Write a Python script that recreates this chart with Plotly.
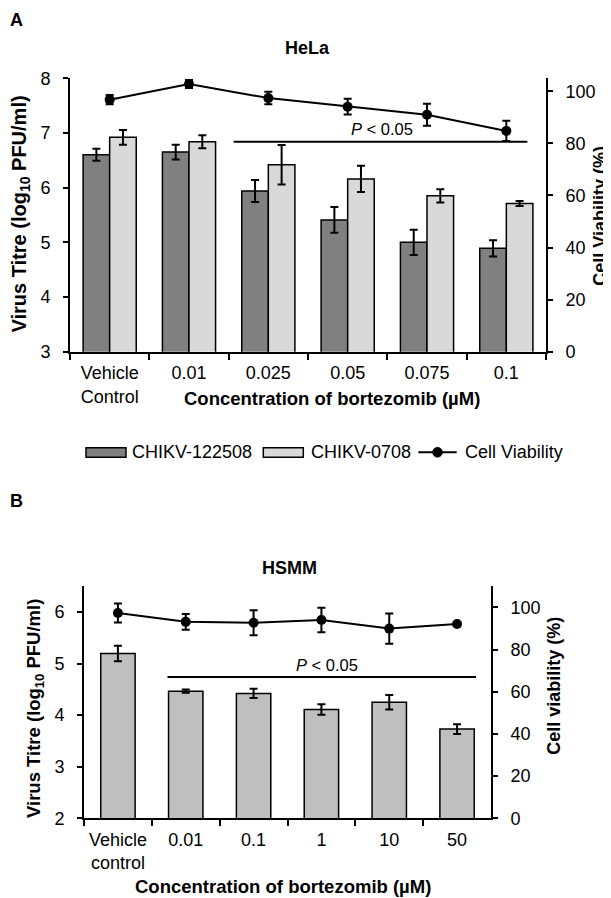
import plotly.graph_objects as go

# ---------------- data ----------------
categories_a = ["Vehicle<br>Control", "0.01", "0.025", "0.05", "0.075", "0.1"]
titre_122508 = [6.60, 6.65, 5.94, 5.41, 5.00, 4.89]
titre_122508_err = [0.11, 0.135, 0.20, 0.235, 0.23, 0.15]
titre_0708 = [6.92, 6.84, 6.42, 6.16, 5.85, 5.71]
titre_0708_err = [0.135, 0.12, 0.36, 0.24, 0.12, 0.045]
viability_a = [96.8, 102.8, 97.4, 94.1, 91.0, 84.8]
viability_a_err = [1.8, 1.5, 2.4, 3.0, 4.2, 3.9]

categories_b = ["Vehicle<br>control", "0.01", "0.1", "1", "10", "50"]
titre_b = [5.195, 4.465, 4.42, 4.11, 4.25, 3.73]
titre_b_err = [0.15, 0.03, 0.09, 0.10, 0.14, 0.095]
viability_b = [97.3, 93.1, 92.7, 94.0, 89.9, 92.1]
viability_b_err = [4.5, 3.7, 5.9, 5.8, 7.2, 0.0]

W, H = 611, 898
OFF = 8  # the page body adds an 8px margin; positions below are page pixels
FONT = "Liberation Sans, Arial, sans-serif"


def px(x):
    return (x - OFF) / W


def py(y):
    return 1 - (y - OFF) / H


err_style = dict(type="data", color="black", thickness=2, width=4, visible=True)

fig = go.Figure()

# ---- Panel A ----
fig.add_trace(go.Bar(
    x=categories_a, y=titre_122508, name="CHIKV-122508",
    marker=dict(color="#808080", line=dict(color="black", width=1.5)),
    error_y=dict(array=titre_122508_err, **err_style),
    xaxis="x", yaxis="y", showlegend=False))
fig.add_trace(go.Bar(
    x=categories_a, y=titre_0708, name="CHIKV-0708",
    marker=dict(color="#d9d9d9", line=dict(color="black", width=1.5)),
    error_y=dict(array=titre_0708_err, **err_style),
    xaxis="x", yaxis="y", showlegend=False))
fig.add_trace(go.Scatter(
    x=categories_a, y=viability_a, name="Cell Viability", mode="lines+markers",
    line=dict(color="black", width=2), marker=dict(color="black", size=10),
    error_y=dict(array=viability_a_err, **err_style),
    xaxis="x", yaxis="y2", showlegend=False))

# ---- Panel B ----
fig.add_trace(go.Bar(
    x=categories_b, y=titre_b, name="HSMM titre", width=0.507,
    marker=dict(color="#bfbfbf", line=dict(color="black", width=1.5)),
    error_y=dict(array=titre_b_err, **err_style),
    xaxis="x2", yaxis="y3", showlegend=False))
fig.add_trace(go.Scatter(
    x=categories_b, y=viability_b, name="Cell viability", mode="lines+markers",
    line=dict(color="black", width=2), marker=dict(color="black", size=10),
    error_y=dict(array=viability_b_err, **err_style),
    xaxis="x2", yaxis="y4", showlegend=False))

tickfont = dict(family=FONT, size=18, color="black")
common_x = dict(type="category", showline=True, linewidth=2, linecolor="black",
                ticks="outside", ticklen=6, tickwidth=2, tickcolor="black",
                tickson="boundaries", showgrid=False, zeroline=False, tickangle=0,
                tickfont=tickfont, range=[-0.5, 5.5], ticklabelstandoff=4,
                automargin=False)
common_y = dict(showline=True, linewidth=2, linecolor="black", ticks="outside",
                ticklen=5, tickwidth=2, tickcolor="black", showgrid=False,
                zeroline=False, tickfont=tickfont, dtick=1, ticklabelstandoff=9,
                automargin=False)

fig.update_layout(
    width=W, height=H,
    margin=dict(l=0, r=0, t=0, b=0, pad=0, autoexpand=False),
    paper_bgcolor="white", plot_bgcolor="white",
    barmode="group", bargap=0.33, bargroupgap=0,
    font=dict(family=FONT, color="black"),
    showlegend=False,
    xaxis=dict(domain=[px(70), px(546)], anchor="y", **common_x),
    yaxis=dict(domain=[py(351.7), py(78.3)], anchor="x", range=[3, 8], **common_y),
    yaxis2=dict(overlaying="y", side="right", anchor="x", range=[0, 105],
                **{**common_y, "dtick": 20}),
    xaxis2=dict(domain=[px(84), px(491)], anchor="y3", **common_x),
    yaxis3=dict(domain=[py(818.3), py(586.2)], anchor="x2", range=[2, 6.5], **common_y),
    yaxis4=dict(overlaying="y3", side="right", anchor="x2", range=[0, 110],
                **{**common_y, "dtick": 20}),
)

# significance lines
fig.add_shape(type="line", xref="x", yref="y", x0=1.563, x1=5.265, y0=6.84, y1=6.84,
              line=dict(color="black", width=2))
fig.add_shape(type="line", xref="x2", yref="y3", x0=0.731, x1=5.278, y0=4.74, y1=4.74,
              line=dict(color="black", width=2))
fig.add_annotation(xref="x", yref="y", x=3.437, y=7.07, text="<i>P</i> < 0.05",
                   showarrow=False, font=dict(size=16.5, family=FONT, color="black"))
fig.add_annotation(xref="x2", yref="y3", x=3.087, y=4.97, text="<i>P</i> < 0.05",
                   showarrow=False, font=dict(size=16.5, family=FONT, color="black"))


def ann(x, y, text, size, angle=0, xanchor="center", yanchor="middle"):
    fig.add_annotation(xref="paper", yref="paper", x=px(x), y=py(y), text=text,
                       showarrow=False, textangle=angle, xanchor=xanchor, yanchor=yanchor,
                       font=dict(size=size, family=FONT, color="black"))


# panel labels / titles
ann(8, 8, "<b>A</b>", 18, xanchor="left", yanchor="top")
ann(307, 48.3, "<b>HeLa</b>", 18)
ann(19.5, 214, "<b>Virus Titre (log<sub>10</sub> PFU/ml)</b>", 20, -90)
ann(600, 215.8, "<b>Cell Viability (%)</b>", 18, -90)
ann(332.2, 398.3, "<b>Concentration of bortezomib (µM)</b>", 18.5)

ann(8, 489, "<b>B</b>", 18, xanchor="left", yanchor="top")
ann(289, 568.3, "<b>HSMM</b>", 18)
ann(35, 709, "<b>Virus Titre (log<sub>10</sub> PFU/ml)</b>", 18.5, -90)
ann(554, 685.8, "<b>Cell viability (%)</b>", 18, -90)
ann(283, 886.7, "<b>Concentration of bortezomib (µM)</b>", 18.5)

# legend for panel A (drawn manually)
ly = 452.3
fig.add_shape(type="rect", xref="paper", yref="paper", x0=px(86), x1=px(126),
              y0=py(457.3), y1=py(447.7), fillcolor="#808080", line=dict(color="black", width=1.5))
ann(130, ly, "CHIKV-122508", 18, xanchor="left")
fig.add_shape(type="rect", xref="paper", yref="paper", x0=px(263.3), x1=px(303.3),
              y0=py(457.3), y1=py(447.7), fillcolor="#d9d9d9", line=dict(color="black", width=1.5))
ann(308.5, ly, "CHIKV-0708", 18, xanchor="left")
fig.add_shape(type="line", xref="paper", yref="paper", x0=px(418.3), x1=px(456.7),
              y0=py(ly), y1=py(ly), line=dict(color="black", width=2))
fig.add_shape(type="circle", xref="paper", yref="paper", x0=px(432.7), x1=px(442.3),
              y0=py(ly + 4.8), y1=py(ly - 4.8), fillcolor="black", line=dict(color="black", width=1))
ann(462.5, ly, "Cell Viability", 18, xanchor="left")

fig.write_html("out.html")
